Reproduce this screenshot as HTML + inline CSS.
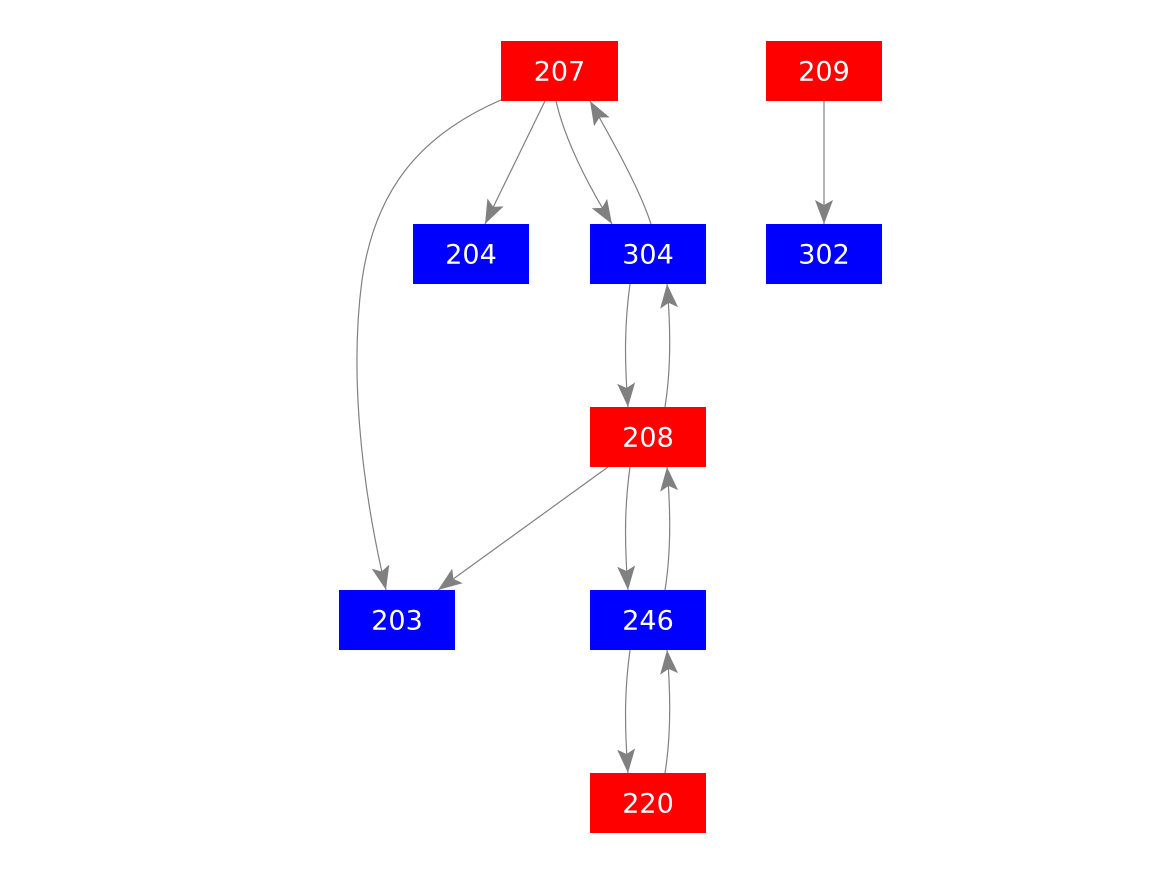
<!DOCTYPE html>
<html><head><meta charset="utf-8"><style>
html,body{margin:0;padding:0;background:#fff;}
svg{display:block;}
text{font-family:"DejaVu Sans","Liberation Sans",sans-serif;font-size:27px;fill:#fff;text-anchor:middle;dominant-baseline:central;}
</style></head><body>
<svg width="1167" height="875" viewBox="0 0 1167 875" xmlns="http://www.w3.org/2000/svg">
<defs>
<marker id="a" markerUnits="userSpaceOnUse" markerWidth="26" markerHeight="18" refX="24" refY="9" orient="auto">
<path d="M0,0 L24,9 L0,18 L5,9 Z" fill="#808080"/>
</marker>
</defs>
<g fill="none" stroke="#808080" stroke-width="1.2" marker-end="url(#a)">
<path d="M501,100 C420,135 375,190 362,280 C350,370 360,480 386,590"/>
<path d="M545,101 L485,224"/>
<path d="M556,101 C565,140 588,185 612,224"/>
<path d="M651,224 C640,190 615,145 590,101"/>
<path d="M630,284 C625,320 624,355 628,407"/>
<path d="M665,407 C671,370 671,330 667,284"/>
<path d="M608,467 L438,590"/>
<path d="M630,467 C625,503 624,538 628,590"/>
<path d="M665,590 C671,553 671,513 667,467"/>
<path d="M630,650 C625,686 624,721 628,773"/>
<path d="M665,773 C671,736 671,696 667,650"/>
<path d="M824,101 L824,224"/>
</g>
<rect x="501" y="41" width="117" height="60" fill="#ff0000"/><text x="559.5" y="72">207</text>
<rect x="766" y="41" width="116" height="60" fill="#ff0000"/><text x="824" y="72">209</text>
<rect x="413" y="224" width="116" height="60" fill="#0000ff"/><text x="471" y="255">204</text>
<rect x="590" y="224" width="116" height="60" fill="#0000ff"/><text x="648" y="255">304</text>
<rect x="766" y="224" width="116" height="60" fill="#0000ff"/><text x="824" y="255">302</text>
<rect x="590" y="407" width="116" height="60" fill="#ff0000"/><text x="648" y="438">208</text>
<rect x="339" y="590" width="116" height="60" fill="#0000ff"/><text x="397" y="621">203</text>
<rect x="590" y="590" width="116" height="60" fill="#0000ff"/><text x="648" y="621">246</text>
<rect x="590" y="773" width="116" height="60" fill="#ff0000"/><text x="648" y="804">220</text>
</svg>
</body></html>
